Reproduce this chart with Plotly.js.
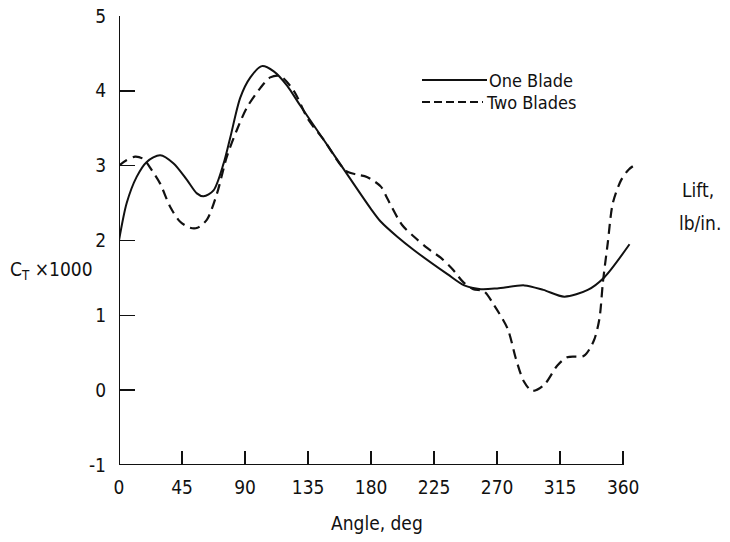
<!DOCTYPE html>
<html>
<head>
<meta charset="utf-8">
<script src="https://cdn.plot.ly/plotly-3.0.1.min.js"></script>
<style>html,body{margin:0;padding:0;background:#fff;}#chart{width:730px;height:542px;}</style>
</head>
<body>
<div id="chart"></div>
<script>
// One Blade (solid)
var angleOne = [0, 5.5, 12.6, 19.8, 29.4, 39, 48.5, 55.6, 60.4, 67.5, 74.7, 79.5, 86.6, 93.8, 102, 110.5, 120, 129.5, 146, 162, 179.6, 187, 198.7, 210.7, 234.5, 246.5, 258.4, 270, 289.4, 303, 318, 334.7, 346.6, 364.5];
var liftOne  = [2.0, 2.5, 2.85, 3.05, 3.14, 3.03, 2.81, 2.63, 2.59, 2.67, 3.03, 3.38, 3.91, 4.18, 4.33, 4.26, 4.07, 3.80, 3.35, 2.91, 2.43, 2.25, 2.05, 1.87, 1.55, 1.40, 1.35, 1.36, 1.40, 1.34, 1.25, 1.34, 1.51, 1.95];

// Two Blades (dashed)
var angleTwo = [0, 5, 11.5, 17.4, 23.4, 29.4, 36.5, 43.7, 50.8, 56, 62.8, 70, 77, 84, 91.4, 101, 108, 115, 124.8, 135, 146, 162, 170, 177, 187, 191.6, 202, 210.7, 220, 229.7, 238, 246, 253, 260.6, 268, 277.5, 283.4, 289, 295, 303.5, 313, 320, 332, 339, 343, 345.5, 349, 352.6, 358.6, 364, 370];
var liftTwo  = [3.0, 3.07, 3.12, 3.09, 2.94, 2.76, 2.45, 2.25, 2.17, 2.17, 2.28, 2.63, 3.12, 3.47, 3.78, 4.04, 4.18, 4.2, 4.0, 3.62, 3.35, 2.93, 2.88, 2.85, 2.72, 2.56, 2.21, 2.05, 1.90, 1.77, 1.62, 1.44, 1.35, 1.32, 1.13, 0.82, 0.42, 0.12, -0.01, 0.07, 0.33, 0.44, 0.46, 0.66, 0.95, 1.44, 1.97, 2.50, 2.81, 2.95, 3.03];

var xTicks = [0, 45, 90, 135, 180, 225, 270, 315, 360];
var yTicks = [-1, 0, 1, 2, 3, 4, 5];
var seriesNames = ["One Blade", "Two Blades"];

var FONT = "DejaVu Sans Condensed, Liberation Sans Narrow, Arial Narrow, sans-serif";

// plot area: left 119, width 521 (730-119-90); top 16, height 449
function px(x) { return (x - 119) / 521; }
function py(y) { return (465 - y) / 449; }

var traces = [
  {x: angleOne, y: liftOne, mode: "lines", name: seriesNames[0], showlegend: false,
   line: {color: "#111", width: 2, shape: "spline", smoothing: 0.8}},
  {x: angleTwo, y: liftTwo, mode: "lines", name: seriesNames[1], showlegend: false,
   line: {color: "#111", width: 2.2, dash: "10px,6px", shape: "spline", smoothing: 0.8}}
];

var layout = {
  width: 730, height: 542,
  margin: {l: 119, r: 90, t: 16, b: 77},
  paper_bgcolor: "#fff", plot_bgcolor: "#fff",
  font: {family: FONT, color: "#111", size: 19},
  showlegend: false,
  xaxis: {
    range: [0, 372], tickvals: xTicks, ticktext: xTicks.map(String),
    ticks: "inside", ticklen: 14, tickwidth: 1.5, tickcolor: "#111",
    showline: false, showgrid: false, zeroline: false,
    ticklabelstandoff: 9, fixedrange: true
  },
  yaxis: {
    range: [-1, 5], tickvals: yTicks, ticktext: yTicks.map(String),
    ticks: "inside", ticklen: 16, tickwidth: 1.5, tickcolor: "#111",
    showline: false, showgrid: false, zeroline: false,
    ticklabelstandoff: 12, fixedrange: true
  },
  shapes: [
    {type: "line", xref: "x", yref: "y", x0: 0, x1: 0, y0: -1, y1: 5, line: {color: "#111", width: 2}},
    {type: "line", xref: "x", yref: "y", x0: 0, x1: 360, y0: -1, y1: -1, line: {color: "#111", width: 2}},
    {type: "line", xref: "paper", yref: "paper", x0: px(422), x1: px(487), y0: py(80), y1: py(80), line: {color: "#111", width: 1.8}},
    {type: "line", xref: "paper", yref: "paper", x0: px(422), x1: px(483), y0: py(102), y1: py(102), line: {color: "#111", width: 1.8, dash: "8px,4px"}}
  ],
  annotations: [
    {xref: "paper", yref: "paper", x: px(488), y: py(80), xanchor: "left", yanchor: "middle", text: seriesNames[0], showarrow: false, font: {size: 18}, height: 20, borderpad: 0},
    {xref: "paper", yref: "paper", x: px(485), y: py(102), xanchor: "left", yanchor: "middle", text: seriesNames[1], showarrow: false, font: {size: 18}, height: 20, borderpad: 0},
    {xref: "paper", yref: "paper", x: px(698), y: py(190), xanchor: "center", yanchor: "middle", text: "Lift,", showarrow: false, font: {size: 19}},
    {xref: "paper", yref: "paper", x: px(700), y: py(223), xanchor: "center", yanchor: "middle", text: "lb/in.", showarrow: false, font: {size: 19}},
    {xref: "paper", yref: "paper", x: px(95), y: py(270), xanchor: "right", yanchor: "middle", text: "C<sub>T</sub> ×1000", showarrow: false, font: {size: 19}},
    {xref: "paper", yref: "paper", x: px(377), y: py(523), xanchor: "center", yanchor: "middle", text: "Angle, deg", showarrow: false, font: {size: 19}}
  ]
};

Plotly.newPlot("chart", traces, layout, {displayModeBar: false, staticPlot: true});
</script>
</body>
</html>
